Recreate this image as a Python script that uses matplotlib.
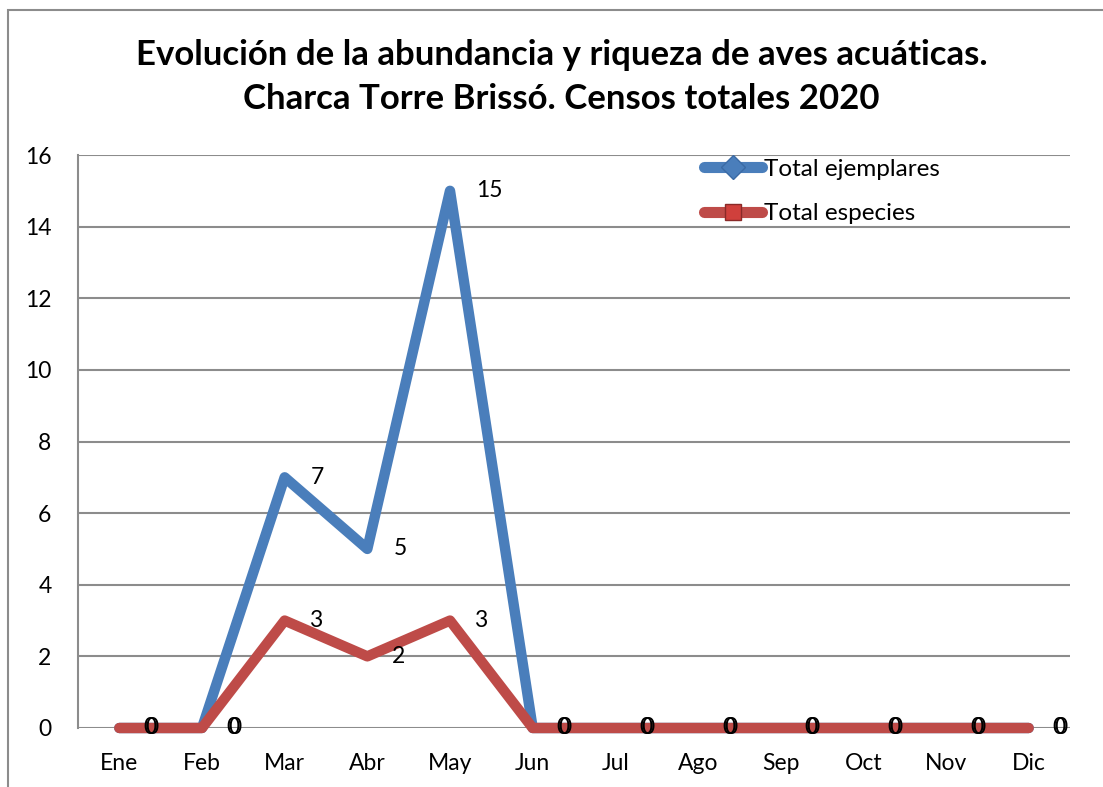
import matplotlib
matplotlib.use("Agg")
import matplotlib.pyplot as plt
from matplotlib.lines import Line2D
from matplotlib.patches import Rectangle

plt.rcParams['font.family'] = ['Lato', 'DejaVu Sans']

months = ["Ene", "Feb", "Mar", "Abr", "May", "Jun", "Jul", "Ago", "Sep", "Oct", "Nov", "Dic"]
total_ejemplares = [0, 0, 7, 5, 15, 0, 0, 0, 0, 0, 0, 0]
total_especies = [0, 0, 3, 2, 3, 0, 0, 0, 0, 0, 0, 0]
yticks = [0, 2, 4, 6, 8, 10, 12, 14, 16]
title = "Evolución de la abundancia y riqueza de aves acuáticas.\nCharca Torre Brissó. Censos totales 2020"

blue = "#4a7ebb"
red = "#be4b48"
grid_c = "#8c8c8c"
fs = 16.5

fig = plt.figure(figsize=(11.03, 7.87), dpi=100)
ax = fig.add_axes([78/1103, 1-728/787, (1070-78)/1103, (728-155)/787])

x = list(range(len(months)))
ax.plot(x, total_ejemplares, color=blue, lw=7.5, solid_capstyle='round', solid_joinstyle='round', zorder=3, clip_on=False)
ax.plot(x, total_especies, color=red, lw=7.5, solid_capstyle='round', solid_joinstyle='round', zorder=4, clip_on=False)

for xi, v in zip(x, total_ejemplares):
    ax.annotate(str(v), (xi, v), xytext=(18.8, 0), textcoords='offset points', ha='left', va='center',
                fontsize=fs, color='black', zorder=5, annotation_clip=False)
for xi, v in zip(x, total_especies):
    ax.annotate(str(v), (xi, v), xytext=(17.4, 0), textcoords='offset points', ha='left', va='center',
                fontsize=fs, color='black', zorder=5, annotation_clip=False)

ax.set_xlim(-0.5, 11.5)
ax.set_ylim(0, 16)
ax.set_yticks(yticks)
ax.set_xticks(x)
ax.set_xticklabels(months)
ax.tick_params(axis='both', length=0, labelsize=fs, colors='black')
ax.tick_params(axis='y', pad=19)
ax.tick_params(axis='x', pad=18)
ax.grid(axis='y', color=grid_c, lw=1.5)
ax.set_axisbelow(True)
for s in ['top', 'right', 'bottom']:
    ax.spines[s].set_visible(False)
ax.spines['left'].set_color(grid_c)
ax.spines['left'].set_linewidth(1.5)

fig.text(0.509, 1-77/787, title, ha='center', va='center', fontsize=25, fontweight='bold',
         linespacing=1.45)

handles = [
    Line2D([0], [0], color=blue, lw=8, solid_capstyle='round', marker='D', markersize=12,
           markerfacecolor=blue, markeredgecolor='#3a6aa5'),
    Line2D([0], [0], color=red, lw=8, solid_capstyle='round', marker='s', markersize=11,
           markerfacecolor='#d0403c', markeredgecolor='#8a2a28'),
]
leg = ax.legend(handles, ["Total ejemplares", "Total especies"], loc='upper left',
                bbox_to_anchor=((694-78)/(1070-78), 1.01), frameon=False, fontsize=17.5,
                handlelength=2.4, handletextpad=0.1, labelspacing=0.95, borderaxespad=0)

fig.patches.append(Rectangle((8/1103, -0.1), 1.2, 1-10/787+0.1, transform=fig.transFigure,
                             fill=False, edgecolor=grid_c, lw=1.5))

fig.savefig("out.png", dpi=100)
